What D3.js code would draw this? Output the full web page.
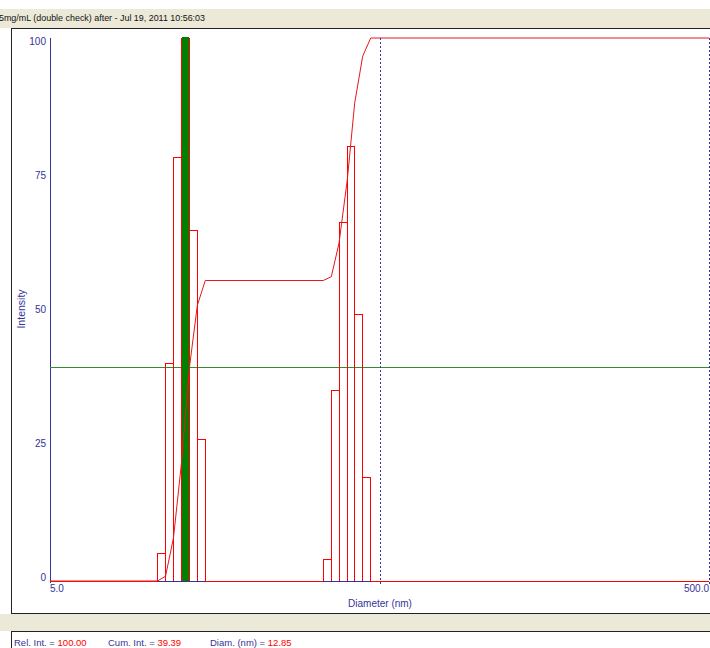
<!DOCTYPE html>
<html>
<head>
<meta charset="utf-8">
<script src="https://cdn.jsdelivr.net/npm/d3@7/dist/d3.min.js"></script>
<style>
  body { margin: 0; background: #fff; }
  text { font-family: "Liberation Sans", Arial, sans-serif; }
</style>
</head>
<body>
<script>
// Histogram bins (bin edges in nm, intensity per bin)
const peakAEdges = [10.60, 11.21, 11.85, 12.53, 13.25, 14.00, 14.80];
const peakAIntensity = [5, 40, 78, 100, 64.5, 26];
const peakBEdges = [33.77, 35.71, 37.68, 39.92, 42.04, 44.46, 47.02];
const peakBIntensity = [4, 35, 66, 80, 49, 19];

// Axis ticks / labels
const yTicks = [0, 25, 50, 75, 100];
const xDomain = [5, 500];
const xTickLabels = ['5.0', '500.0'];

// Cursor readout
const cursorDiam = 12.85;
const cursorRelInt = 100.00;
const cursorCumInt = 39.39;
const markerDiam = 50;
const titleText = '5mg/mL (double check) after - Jul 19, 2011    10:56:03';

// Constants
const WIDTH = 710;
const HEIGHT = 648;
const NAVY = '#333399';
const RED = '#ff0000';
const BEIGE = '#ece9d8';

const svg = d3.select('body')
  .append('svg')
  .attr('width', WIDTH)
  .attr('height', HEIGHT);

// Window chrome: beige bands and frame lines
svg.append('rect').attr('x', 0).attr('y', 9).attr('width', WIDTH).attr('height', 19).attr('fill', BEIGE);
svg.append('rect').attr('x', 0).attr('y', 614).attr('width', WIDTH).attr('height', 17).attr('fill', BEIGE);
const frame = svg.append('g').attr('stroke', '#222').attr('shape-rendering', 'crispEdges');
frame.append('line').attr('x1', 11).attr('x2', WIDTH).attr('y1', 28.5).attr('y2', 28.5);
frame.append('line').attr('x1', 11.5).attr('x2', 11.5).attr('y1', 28).attr('y2', 614);
frame.append('line').attr('x1', 11).attr('x2', WIDTH).attr('y1', 613.5).attr('y2', 613.5);
frame.append('line').attr('x1', 11).attr('x2', WIDTH).attr('y1', 631.5).attr('y2', 631.5);
frame.append('line').attr('x1', 11.5).attr('x2', 11.5).attr('y1', 631).attr('y2', HEIGHT);

svg.append('text')
  .attr('x', -1)
  .attr('y', 21)
  .attr('font-size', '9.5px')
  .attr('fill', '#111')
  .attr('textLength', 206)
  .attr('lengthAdjust', 'spacingAndGlyphs')
  .text(titleText);

// Scales
const xScale = d3.scaleLog().domain(xDomain).range([50, 709]);
const yScale = d3.scaleLinear().domain([0, 100]).range([581, 38]);
const labelY = d3.scaleLinear().domain([0, 100]).range([580.5, 44.5]);

// y axis line
svg.append('line')
  .attr('x1', 50.5).attr('x2', 50.5)
  .attr('y1', yScale(100)).attr('y2', yScale(0) + 2)
  .attr('stroke', NAVY)
  .attr('shape-rendering', 'crispEdges');

svg.selectAll('.ytick')
  .data(yTicks)
  .enter().append('text')
  .attr('class', 'ytick')
  .attr('x', 46)
  .attr('y', d => labelY(d))
  .attr('text-anchor', 'end')
  .attr('font-size', '10px')
  .attr('fill', NAVY)
  .text(d => d);

svg.append('text')
  .attr('transform', 'translate(25,309) rotate(-90)')
  .attr('text-anchor', 'middle')
  .attr('font-size', '10.5px')
  .attr('fill', NAVY)
  .text('Intensity');

// x labels (only the two ends)
svg.append('text')
  .attr('x', xScale(xDomain[0]))
  .attr('y', 592)
  .attr('font-size', '10px')
  .attr('fill', NAVY)
  .text(xTickLabels[0]);
svg.append('text')
  .attr('x', xScale(xDomain[1]))
  .attr('y', 592)
  .attr('text-anchor', 'end')
  .attr('font-size', '10px')
  .attr('fill', NAVY)
  .text(xTickLabels[1]);
svg.append('text')
  .attr('x', 380)
  .attr('y', 607)
  .attr('text-anchor', 'middle')
  .attr('font-size', '10px')
  .attr('fill', NAVY)
  .text('Diameter (nm)');

// Zero line of histogram
svg.append('line')
  .attr('x1', xScale(xDomain[0])).attr('x2', xScale(xDomain[1]))
  .attr('y1', yScale(0) + 0.5).attr('y2', yScale(0) + 0.5)
  .attr('stroke', RED)
  .attr('shape-rendering', 'crispEdges');

// Build bins
function makeBins(edges, vals) {
  return vals.map((v, i) => ({lo: edges[i], hi: edges[i + 1], v: v}));
}
const bins = makeBins(peakAEdges, peakAIntensity).concat(makeBins(peakBEdges, peakBIntensity));

// blue axis pieces under bar groups
[peakAEdges, peakBEdges].forEach(function(edges) {
  svg.append('line')
    .attr('x1', xScale(edges[0])).attr('x2', xScale(edges[edges.length - 1]))
    .attr('y1', yScale(0) + 0.5).attr('y2', yScale(0) + 0.5)
    .attr('stroke', NAVY)
    .attr('shape-rendering', 'crispEdges');
});

// Cumulative-intensity horizontal line
svg.append('line')
  .attr('x1', xScale(xDomain[0])).attr('x2', xScale(xDomain[1]))
  .attr('y1', yScale(cursorCumInt)).attr('y2', yScale(cursorCumInt))
  .attr('stroke', '#2f8f2f')
  .attr('shape-rendering', 'crispEdges');

// Bars as open outlines
svg.selectAll('.bar')
  .data(bins)
  .enter().append('path')
  .attr('class', 'bar')
  .attr('d', d => 'M' + xScale(d.lo) + ',' + yScale(0) +
    'V' + yScale(d.v) + 'H' + xScale(d.hi) + 'V' + yScale(0))
  .attr('fill', 'none')
  .attr('stroke', RED)
  .attr('shape-rendering', 'crispEdges');

// Cursor bar (green)
const cursorBin = bins.find(b => cursorDiam >= b.lo && cursorDiam < b.hi);
svg.append('rect')
  .attr('x', xScale(cursorBin.lo) + 1)
  .attr('y', yScale(cursorRelInt) - 1)
  .attr('width', xScale(cursorBin.hi) - xScale(cursorBin.lo) - 1)
  .attr('height', yScale(0) - yScale(cursorRelInt) + 1)
  .attr('fill', '#008000')
  .attr('shape-rendering', 'crispEdges');

// Cumulative curve
const total = d3.sum(bins, d => d.v);
const cumPts = [[xDomain[0], 0]];
let run = 0;
[makeBins(peakAEdges, peakAIntensity), makeBins(peakBEdges, peakBIntensity)].forEach(function(group) {
  cumPts.push([group[0].lo, run / total * 100]);
  group.forEach(function(b) {
    run += b.v;
    cumPts.push([b.hi, run / total * 100]);
  });
});
cumPts.push([xDomain[1], 100]);

const line = d3.line()
  .x(d => xScale(d[0]))
  .y(d => yScale(d[1]));

svg.append('path')
  .datum(cumPts)
  .attr('d', line)
  .attr('fill', 'none')
  .attr('stroke', '#e8161b')
  .attr('stroke-width', 1);

// Dashed marker lines
[markerDiam, xDomain[1]].forEach(function(d) {
  svg.append('line')
    .attr('x1', Math.round(xScale(d)) + 0.5).attr('x2', Math.round(xScale(d)) + 0.5)
    .attr('y1', yScale(100)).attr('y2', yScale(0) + 4)
    .attr('stroke', NAVY)
    .attr('stroke-dasharray', '2,2')
    .attr('shape-rendering', 'crispEdges');
});

// Status line: label in navy, value in red
const readout = [
  {x: 14, label: 'Rel. Int. = ', value: cursorRelInt.toFixed(2)},
  {x: 108, label: 'Cum. Int. = ', value: cursorCumInt.toFixed(2)},
  {x: 210, label: 'Diam. (nm)  = ', value: cursorDiam.toFixed(2)}
];
readout.forEach(function(s) {
  const t = svg.append('text').attr('x', s.x).attr('y', 646)
    .attr('font-size', '9.5px');
  t.append('tspan').attr('fill', NAVY).text(s.label);
  t.append('tspan').attr('fill', RED).text(s.value);
});
</script>
</body>
</html>
